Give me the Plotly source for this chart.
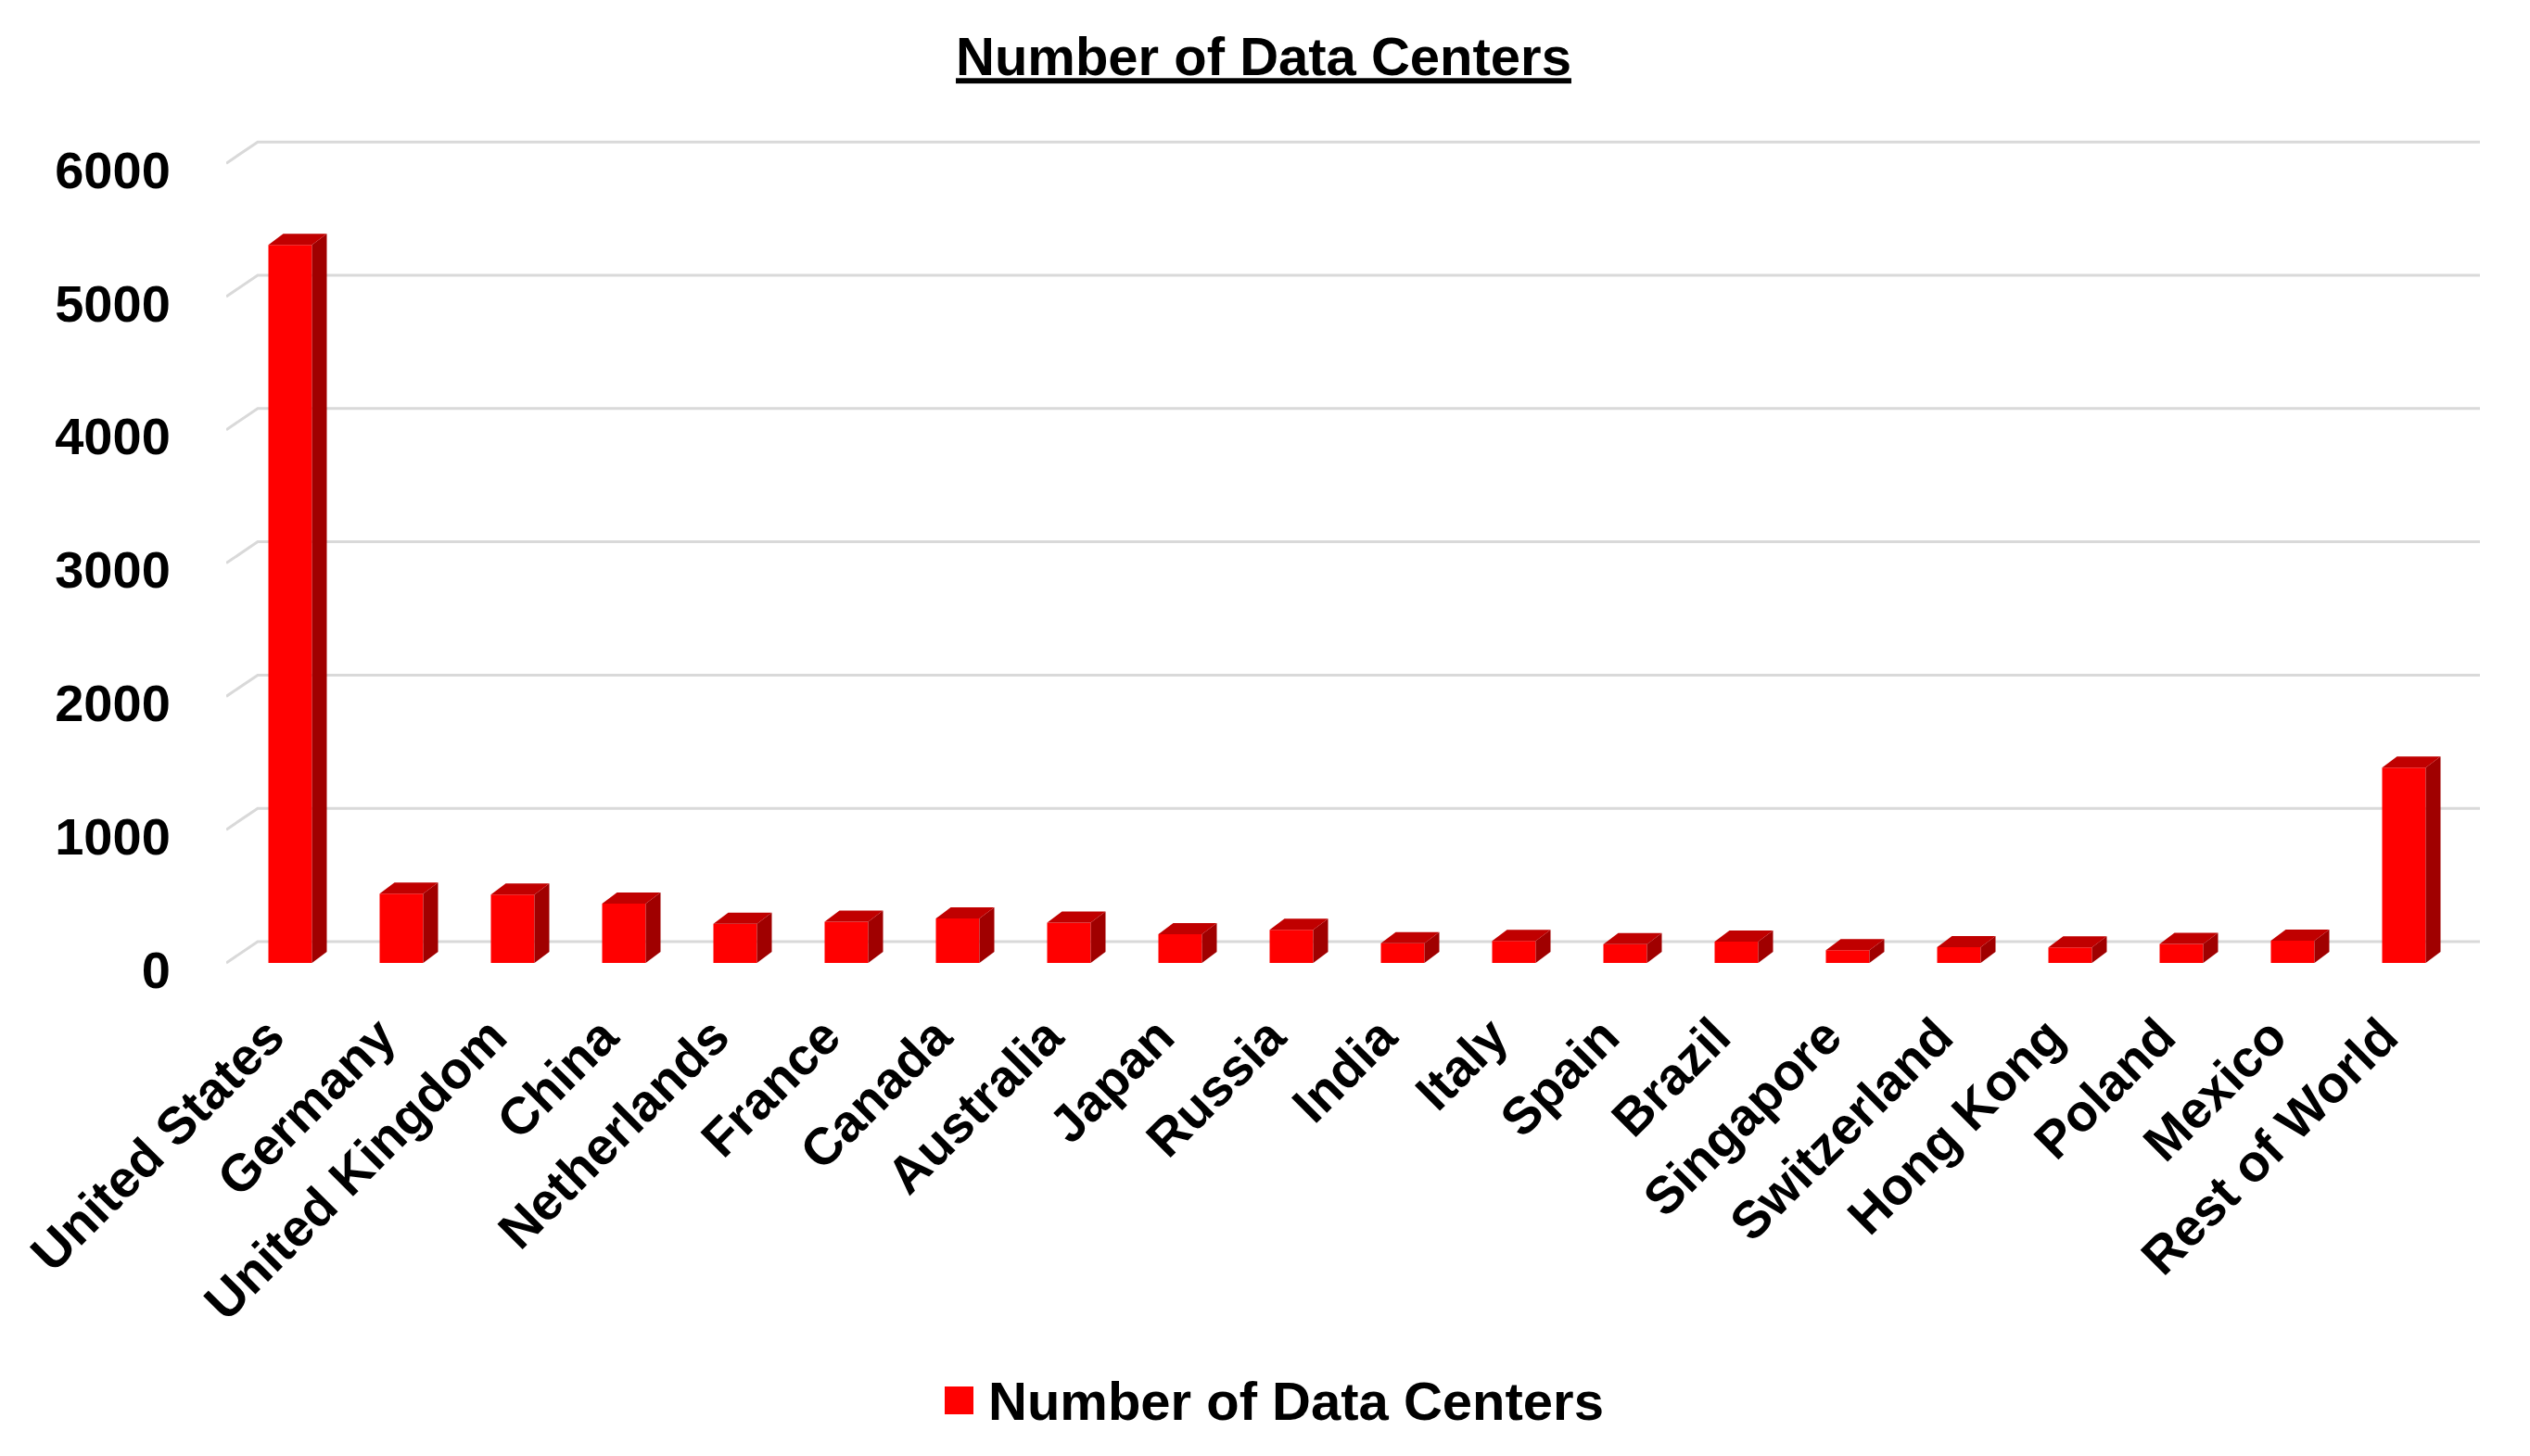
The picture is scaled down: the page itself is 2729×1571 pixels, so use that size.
import plotly.graph_objects as go

# ---------------- data ----------------
categories = ["United States", "Germany", "United Kingdom", "China", "Netherlands",
              "France", "Canada", "Australia", "Japan", "Russia", "India", "Italy",
              "Spain", "Brazil", "Singapore", "Switzerland", "Hong Kong", "Poland",
              "Mexico", "Rest of World"]
values = [5388, 520, 512, 445, 293, 310, 333, 303, 216, 248, 148, 166,
          140, 160, 95, 118, 117, 142, 167, 1466]
y_ticks = [0, 1000, 2000, 3000, 4000, 5000, 6000]
series_name = "Number of Data Centers"
title_text = "Number of Data Centers"

# ---------------- geometry / style ----------------
W, H = 2729, 1571
PLOT_L, PLOT_R, PLOT_T, PLOT_B = 244, 2675, 140, 1060   # pixel box of plot area
FIRST_CAT_PX, CAT_STEP_PX = 313, 120                      # category center spacing
ZERO_PX, PX_PER_UNIT = 1039, 0.1438                       # front-plane value scale

x_range = [(PLOT_L - FIRST_CAT_PX) / CAT_STEP_PX, (PLOT_R - FIRST_CAT_PX) / CAT_STEP_PX]
y_range = [(ZERO_PX - PLOT_B) / PX_PER_UNIT, (ZERO_PX - PLOT_T) / PX_PER_UNIT]

# label axes slightly offset (Excel-like label placement)
XLAB_SHIFT = 23 / CAT_STEP_PX
YLAB_SHIFT = 7 / PX_PER_UNIT
x2_range = [x_range[0] + XLAB_SHIFT, x_range[1] + XLAB_SHIFT]
y2_range = [y_range[0] + YLAB_SHIFT, y_range[1] + YLAB_SHIFT]

BAR_W = 47 / CAT_STEP_PX
DEPTH_X = 16 / CAT_STEP_PX
DEPTH_Y = 12 / PX_PER_UNIT
WALL_X = 34 / CAT_STEP_PX
WALL_Y = 23 / PX_PER_UNIT

FONT = "Liberation Sans, Arial, sans-serif"
FS = 56
FS_BIG = 58
RED_FRONT, RED_TOP, RED_SIDE = "#FF0000", "#C00000", "#A00000"
GRID = "#D9D9D9"

idx = list(range(len(categories)))

fig = go.Figure()

# front faces
fig.add_trace(go.Bar(x=idx, y=values, width=BAR_W, name=series_name,
                     marker=dict(color=RED_FRONT, line=dict(width=0)),
                     showlegend=False, hoverinfo="skip"))

# side and top faces derived from the data
side_x, side_y, top_x, top_y = [], [], [], []
for i, v in zip(idx, values):
    xl, xr = i - BAR_W / 2, i + BAR_W / 2
    side_x += [xr, xr + DEPTH_X, xr + DEPTH_X, xr, xr, None]
    side_y += [0, DEPTH_Y, v + DEPTH_Y, v, 0, None]
    top_x += [xl, xr, xr + DEPTH_X, xl + DEPTH_X, xl, None]
    top_y += [v, v, v + DEPTH_Y, v + DEPTH_Y, v, None]

fig.add_trace(go.Scatter(x=side_x, y=side_y, fill="toself", fillcolor=RED_SIDE, mode="lines",
                         line=dict(width=0, color=RED_SIDE), showlegend=False, hoverinfo="skip"))
fig.add_trace(go.Scatter(x=top_x, y=top_y, fill="toself", fillcolor=RED_TOP, mode="lines",
                         line=dict(width=0, color=RED_TOP), showlegend=False, hoverinfo="skip"))

# invisible trace carrying the label axes
fig.add_trace(go.Scatter(x=[None], y=[None], xaxis="x2", yaxis="y2", mode="markers",
                         showlegend=False, hoverinfo="skip"))

# back-wall gridlines with left-wall diagonal
shapes = []
for t in y_ticks:
    x0 = x_range[0]
    path = f"M {x0},{t} L {x0 + WALL_X},{t + WALL_Y} L {x_range[1]},{t + WALL_Y}"
    shapes.append(dict(type="path", path=path, xref="x", yref="y",
                       line=dict(color=GRID, width=3), layer="below"))

# legend (drawn manually so the key square matches the original size)
LEG_SQ = (1019, 1496, 1050, 1526)
shapes.append(dict(type="rect", xref="paper", yref="paper",
                   x0=(LEG_SQ[0] - PLOT_L) / (PLOT_R - PLOT_L), x1=(LEG_SQ[2] - PLOT_L) / (PLOT_R - PLOT_L),
                   y0=(PLOT_B - LEG_SQ[3]) / (PLOT_B - PLOT_T), y1=(PLOT_B - LEG_SQ[1]) / (PLOT_B - PLOT_T),
                   fillcolor=RED_FRONT, line=dict(width=0)))
annotations = [dict(text=series_name, xref="paper", yref="paper",
                    x=(1064 - PLOT_L) / (PLOT_R - PLOT_L), y=(PLOT_B - 1511) / (PLOT_B - PLOT_T),
                    xanchor="left", yanchor="middle", showarrow=False,
                    font=dict(family=FONT, size=FS_BIG, color="black", weight="bold"))]

axis_font = dict(family=FONT, size=FS, color="black", weight="bold")

fig.update_layout(
    width=W, height=H,
    margin=dict(l=PLOT_L, r=W - PLOT_R, t=PLOT_T, b=H - PLOT_B, autoexpand=False),
    paper_bgcolor="white", plot_bgcolor="white",
    font=dict(family=FONT, size=FS, color="black", weight="bold"),
    title=dict(text=f"<u>{title_text}</u>", x=1363 / W, xref="container", xanchor="center",
               y=1 - 61 / H, yref="container", yanchor="middle",
               font=dict(family=FONT, size=FS_BIG, color="black", weight="bold")),
    xaxis=dict(range=x_range, showticklabels=False, showgrid=False, zeroline=False,
               showline=False, ticks=""),
    yaxis=dict(range=y_range, showticklabels=False, showgrid=False, zeroline=False,
               showline=False, ticks=""),
    xaxis2=dict(range=x2_range, overlaying="x", side="bottom", tickvals=idx, ticktext=categories,
                tickangle=-45, showgrid=False, zeroline=False, showline=False,
                ticks="outside", ticklen=2, tickcolor="rgba(0,0,0,0)", tickfont=axis_font),
    yaxis2=dict(range=y2_range, overlaying="y", side="left", tickvals=y_ticks,
                ticktext=[str(t) for t in y_ticks], showgrid=False, zeroline=False,
                showline=False, ticks="outside", ticklen=48, tickcolor="rgba(0,0,0,0)",
                tickfont=axis_font),
    showlegend=False,
    shapes=shapes,
    annotations=annotations,
    hovermode=False,
)

fig.write_html("out.html", config={"displayModeBar": False},
               post_script="document.body.style.margin='0';")
